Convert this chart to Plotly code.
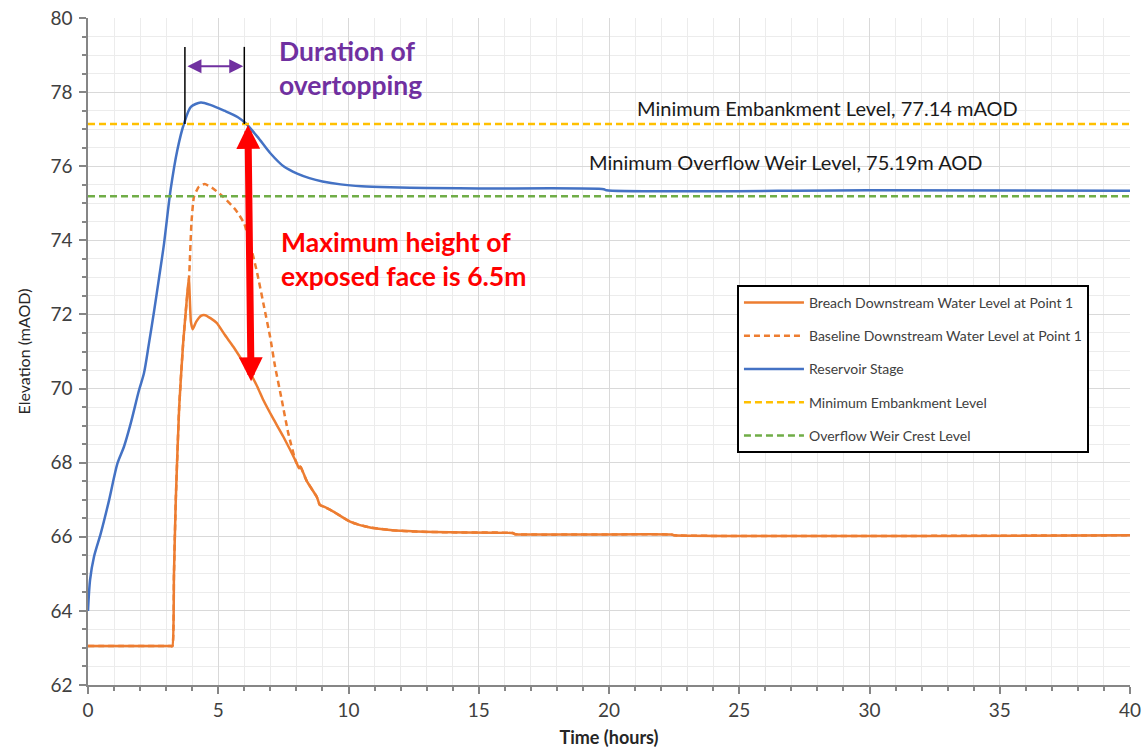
import plotly.graph_objects as go

# ---------------- data ----------------
reservoir_t = [0, 0.08, 0.23, 0.49, 0.81, 1.13, 1.38, 1.64, 1.96, 2.15, 2.34, 2.53, 2.73, 2.92,
               3.17, 3.43, 3.69, 3.95, 4.33, 4.72, 5.23, 5.74, 6.05, 6.5, 7.0, 7.52, 8.03,
               8.5, 9.0, 9.7, 10.5, 11.6, 13.0, 15.0, 19.8, 19.9, 30.0, 40.0]
reservoir_y = [64.0, 64.84, 65.46, 66.09, 66.99, 67.98, 68.43, 69.06, 69.96, 70.42, 71.22, 72.06, 73.0, 73.92,
               75.36, 76.44, 77.16, 77.6, 77.72, 77.65, 77.5, 77.33, 77.16, 76.8, 76.35, 75.99, 75.8,
               75.68, 75.59, 75.51, 75.46, 75.43, 75.41, 75.4, 75.38, 75.35, 75.35, 75.34]

breach_t = [0, 3.18, 3.24, 3.3, 3.37, 3.5, 3.65, 3.78, 3.87, 3.95, 4.02, 4.15, 4.35, 4.5, 4.7, 4.94,
            5.25, 5.58, 5.9, 6.22, 6.5, 6.73, 7.1, 7.5, 8.01, 8.1, 8.15, 8.4, 8.78, 8.9, 9.1,
            9.42, 10.06, 10.7, 11.6, 12.6, 13.9, 16.3, 16.4, 22.4, 22.5, 40.0]
breach_y = [63.05, 63.05, 63.05, 65.0, 67.0, 69.5, 71.2, 72.3, 73.0, 71.8, 71.6, 71.8, 71.97, 71.98, 71.9, 71.77,
            71.45, 71.13, 70.78, 70.42, 70.05, 69.69, 69.2, 68.7, 67.99, 67.85, 67.9, 67.5, 67.08, 66.86, 66.8,
            66.68, 66.41, 66.27, 66.18, 66.14, 66.12, 66.1, 66.07, 66.06, 66.04, 66.04]

baseline_t = [0, 3.18, 3.24, 3.3, 3.37, 3.5, 3.65, 3.78, 3.88, 3.97, 4.07, 4.26, 4.48, 4.8, 5.18, 5.67,
              5.99, 6.25, 6.5, 6.76, 6.99, 7.18, 7.44, 7.69, 8.01, 8.15, 8.4, 8.78, 8.9, 9.1,
              9.42, 10.06, 10.7, 11.6, 12.6, 13.9, 16.3, 16.4, 22.4, 22.5, 40.0]
baseline_y = [63.05, 63.05, 63.05, 65.0, 67.0, 69.5, 71.2, 72.3, 73.0, 74.46, 75.18, 75.45, 75.52, 75.4, 75.18, 74.82,
              74.46, 73.83, 73.1, 72.2, 71.4, 70.6, 69.69, 68.79, 67.98, 67.9, 67.5, 67.08, 66.86, 66.8,
              66.68, 66.41, 66.27, 66.18, 66.14, 66.12, 66.1, 66.07, 66.06, 66.04, 66.04]

embankment_level = 77.14
weir_level = 75.19
x_range = [0, 40]
y_range = [62, 80]

series_names = ["Breach Downstream Water Level at Point 1",
                "Baseline Downstream Water Level at Point 1",
                "Reservoir Stage",
                "Minimum Embankment Level",
                "Overflow Weir Crest Level"]

# overtopping markers (time, level)
overtop_start = 3.72
overtop_end = 6.0
marker_top = 79.22
duration_arrow_y = 78.7
exposed_top = (6.14, 77.15)
exposed_bottom = (6.26, 70.2)

ORANGE = "#ED7D31"
BLUE = "#4472C4"
YELLOW = "#FFC000"
GREEN = "#70AD47"
FONT = "Lato"

fig = go.Figure()
fig.add_trace(go.Scatter(x=breach_t, y=breach_y, mode="lines", name=series_names[0],
                         line=dict(color=ORANGE, width=2.5, shape="spline", smoothing=0.5), legendgroup="a"))
fig.add_trace(go.Scatter(x=baseline_t, y=baseline_y, mode="lines", name=series_names[1],
                         line=dict(color=ORANGE, width=2.5, dash="6px,4px", shape="spline", smoothing=0.5),
                         legendgroup="b"))
fig.add_trace(go.Scatter(x=reservoir_t, y=reservoir_y, mode="lines", name=series_names[2],
                         line=dict(color=BLUE, width=2.5, shape="spline", smoothing=0.8), legendgroup="c"))
fig.add_trace(go.Scatter(x=x_range, y=[embankment_level] * 2, mode="lines", name=series_names[3],
                         line=dict(color=YELLOW, width=2.5, dash="7px,4px"), legendgroup="d"))
fig.add_trace(go.Scatter(x=x_range, y=[weir_level] * 2, mode="lines", name=series_names[4],
                         line=dict(color=GREEN, width=2.5, dash="7px,4px"), legendgroup="e"))

# black vertical markers
for t in (overtop_start, overtop_end):
    fig.add_shape(type="line", x0=t, x1=t, y0=embankment_level, y1=marker_top,
                  xref="x", yref="y", line=dict(color="black", width=1.5))

# purple double arrow
fig.add_annotation(x=overtop_end - 0.04, y=duration_arrow_y, ax=overtop_start + 0.04, ay=duration_arrow_y,
                   xref="x", yref="y", axref="x", ayref="y", text="", showarrow=True,
                   arrowhead=2, startarrowhead=2, arrowside="end+start", arrowwidth=2,
                   arrowsize=1.4, startarrowsize=1.4, arrowcolor="#7030A0", standoff=0, startstandoff=0)

# red double arrow
fig.add_annotation(x=exposed_bottom[0], y=exposed_bottom[1], ax=exposed_top[0], ay=exposed_top[1],
                   xref="x", yref="y", axref="x", ayref="y", text="", showarrow=True,
                   arrowhead=2, startarrowhead=2, arrowside="end+start", arrowwidth=7,
                   arrowsize=0.68, startarrowsize=0.68, arrowcolor="#FF0000", standoff=0, startstandoff=0)

fig.add_annotation(x=7.26, y=79.6, xref="x", yref="y", xanchor="left", yanchor="top",
                   text="<b>Duration of<br>overtopping</b>", showarrow=False, align="left",
                   font=dict(family=FONT, size=26.5, color="#7030A0"))
fig.add_annotation(x=7.33, y=74.45, xref="x", yref="y", xanchor="left", yanchor="top",
                   text="<b>Maximum height of<br>exposed face is 6.5m</b>", showarrow=False, align="left",
                   font=dict(family=FONT, size=26.5, color="#FF0000"))
fig.add_annotation(x=28.4, y=77.57, xref="x", yref="y", xanchor="center", yanchor="middle",
                   text="Minimum Embankment Level, 77.14 mAOD", showarrow=False,
                   font=dict(family=FONT, size=20, color="#1a1a1a"))
fig.add_annotation(x=26.8, y=76.11, xref="x", yref="y", xanchor="center", yanchor="middle",
                   text="Minimum Overflow Weir Level, 75.19m AOD", showarrow=False,
                   font=dict(family=FONT, size=20, color="#1a1a1a"))

axis_common = dict(
    showline=True, linecolor="#868686", linewidth=1.5,
    showgrid=True, gridcolor="#d9d9d9", gridwidth=1,
    ticks="outside", ticklen=7, tickcolor="#868686", tickwidth=1.5,
    tickfont=dict(family=FONT, size=19, color="#404040"),
    zeroline=False, automargin=False, ticklabeloverflow="allow",
)
fig.update_xaxes(range=x_range, dtick=5, tick0=0,
                 minor=dict(dtick=1, showgrid=True, gridcolor="#ececec", ticks="outside",
                            ticklen=4, tickcolor="#868686"),
                 title=dict(text="<b>Time (hours)</b>", font=dict(family=FONT, size=18, color="#262626"),
                            standoff=12),
                 **axis_common)
fig.update_yaxes(range=y_range, dtick=2, tick0=62,
                 minor=dict(dtick=0.5, showgrid=True, gridcolor="#ececec", ticks="outside",
                            ticklen=4, tickcolor="#868686"),
                 title=dict(text="Elevation (mAOD)", font=dict(family=FONT, size=16, color="#262626"),
                            standoff=16),
                 ticklabelstandoff=3,
                 **axis_common)

fig.update_layout(
    width=1146, height=753,
    margin=dict(l=88, r=16, t=18, b=68),
    paper_bgcolor="white", plot_bgcolor="white",
    showlegend=True,
    legend=dict(x=0.6228, y=0.5997, xanchor="left", yanchor="top",
                bgcolor="white", bordercolor="black", borderwidth=2,
                font=dict(family=FONT, size=14, color="#404040"),
                tracegroupgap=12, itemwidth=60),
)

# remove the page's default body margin so the figure fills the window exactly
fig.write_html("out.html",
               config={"displayModeBar": False},
               post_script="document.body.style.margin='0';document.body.style.overflow='hidden';")
